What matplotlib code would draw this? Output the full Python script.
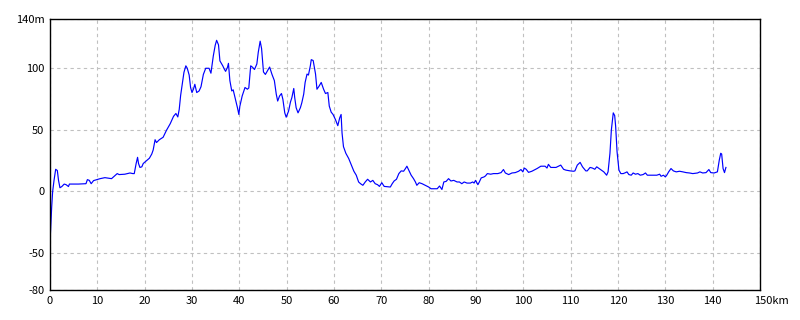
import matplotlib
matplotlib.use('Agg')
import matplotlib.pyplot as plt
import matplotlib.transforms as mtransforms

# distance (km) and elevation (m), rows kept aligned
km = [0, 0, 0.35, 0.56, 0.85, 1.2, 1.55, 1.8, 2.1, 2.5,
      3.0, 3.4, 3.9, 4.1, 6.0, 7.6, 7.9, 8.3, 8.7, 9.2,
      9.9, 10.6, 11.6, 13.0, 14.2, 14.6, 15.8, 16.9, 17.5, 17.8,
      18.2, 18.5, 18.7, 19.0, 19.4, 19.7, 20.4, 21.0, 21.5, 21.8,
      22.2, 22.5, 23.1, 23.9, 24.6, 25.4, 26.1, 26.6, 27.0, 27.3,
      27.6, 28.0, 28.3, 28.7, 29.0, 29.4, 29.7, 30.0, 30.3, 30.6,
      31.0, 31.5, 31.9, 32.4, 32.9, 33.6, 34.0, 34.5, 34.9, 35.2,
      35.6, 35.9, 36.5, 36.8, 37.1, 37.5, 37.7, 38.0, 38.4, 38.7,
      39.1, 39.6, 39.9, 40.1, 40.6, 41.2, 41.7, 42.0, 42.4, 42.8,
      43.2, 43.7, 44.0, 44.4, 44.7, 45.1, 45.5, 46.4, 46.9, 47.4,
      47.8, 48.1, 48.5, 48.9, 49.2, 49.6, 49.9, 50.4, 50.8, 51.1,
      51.5, 51.7, 52.0, 52.4, 52.9, 53.2, 53.6, 53.9, 54.3, 54.6,
      55.0, 55.2, 55.6, 56.1, 56.4, 56.8, 57.3, 57.8, 58.2, 58.7,
      59.0, 59.4, 59.8, 60.3, 60.8, 61.2, 61.5, 61.7, 62.0, 62.5,
      63.1, 63.6, 64.2, 64.7, 65.2, 65.6, 66.1, 66.6, 67.1, 67.7,
      68.2, 68.7, 69.2, 69.6, 70.1, 70.6, 71.9, 72.3, 72.7, 73.2,
      73.7, 74.2, 74.7, 75.1, 75.4, 75.8, 76.3, 76.8, 77.2, 77.5,
      78.0, 78.6, 79.3, 80.0, 80.5, 81.8, 82.3, 82.8, 83.2, 83.7,
      84.2, 84.7, 85.3, 86.0, 86.5, 87.0, 87.5, 88.1, 88.8, 89.3,
      89.6, 89.9, 90.4, 90.7, 91.1, 91.7, 92.0, 92.4, 93.1, 93.7,
      94.6, 95.3, 95.8, 96.2, 96.9, 97.6, 98.3, 99.0, 99.5, 99.9,
      100.2, 100.6, 101.1, 101.8, 102.9, 103.7, 104.6, 105.0, 105.3, 105.8,
      106.9, 107.4, 107.9, 108.5, 109.0, 109.9, 110.6, 110.9, 111.4, 112.0,
      112.5, 113.2, 113.5, 114.1, 114.6, 115.1, 115.5, 116.0, 116.5, 117.0,
      117.6, 117.9, 118.3, 118.6, 119.0, 119.3, 119.5, 119.8, 120.2, 120.6,
      121.1, 121.6, 121.9, 122.3, 122.8, 123.2, 123.7, 124.2, 124.7, 125.3,
      125.8, 126.2, 127.4, 128.2, 128.8, 129.1, 129.6, 130.0, 130.3, 130.7,
      131.2, 131.7, 132.3, 133.0, 133.7, 134.4, 135.1, 135.8, 136.8, 137.3,
      137.9, 138.6, 139.2, 139.6, 140.3, 141.0, 141.4, 141.7, 141.9, 142.2,
      142.5, 142.8]
elev = [-70, -42, -13, 0, 9, 18, 17, 9, 3, 4,
        6, 5.5, 4, 6, 6, 6.3, 9.6, 9, 6.3, 8.8,
        9.6, 10.4, 11.2, 10.4, 14.5, 13.7, 14, 15, 14.5, 14.5,
        22.7, 27.7, 22.7, 19.5, 20, 22.7, 25, 27, 30.4, 33.7,
        42, 39.7, 42, 44, 49.6, 55, 61, 63.3, 60.5, 66.6,
        78, 88.5, 96.7, 102, 100, 94.5, 84.4, 80.3, 83, 87,
        80.3, 81.6, 85, 95, 100, 100, 96, 110, 118.6, 122.7,
        119, 106, 102, 99.5, 97.5, 100.8, 104, 90, 81.6, 82.5,
        76, 68, 62.5, 69, 77.5, 84.4, 83, 84, 102, 100.8,
        99, 103.5, 113, 122, 116, 97, 95, 101, 95, 90,
        79, 73.4, 77.5, 79.5, 74.8, 63.8, 60.3, 65.2, 72.6, 76.2,
        83.6, 76.2, 68, 63.8, 68, 72, 79, 88.5, 95.3, 94.5,
        102, 107, 106.3, 95.3, 83, 85.2, 88.5, 83, 79.5, 80.3,
        69.3, 64.4, 62.5, 58.4, 53.4, 59.7, 62.5, 47.4, 36.4, 31,
        26.8, 22, 16.4, 13.2, 7.7, 6.3, 5, 7.7, 9.9, 7.7,
        9, 6.3, 5.5, 4.1, 7.1, 4.1, 3.6, 6.3, 8.5, 9.9,
        14.5, 16.7, 16.4, 18.6, 20.5, 17.3, 13.2, 10.4, 7.7, 5,
        7.1, 6.3, 5, 3.6, 2.2, 2.2, 4.4, 1.6, 7.7, 8.2,
        10.4, 8.5, 9, 7.7, 7.7, 6.3, 7.7, 6.8, 6.8, 7.7,
        6.8, 9, 5.5, 7.7, 11, 11.8, 12.6, 14.5, 14, 14.5,
        14.5, 15.3, 17.8, 15, 13.7, 15, 15.3, 16.4, 17.8, 15.9,
        19, 18, 15.5, 16.4, 18.6, 20.5, 20.5, 19, 22, 19.5,
        19.5, 20.5, 21.4, 18, 17.3, 16.7, 16.4, 16.7, 21.4, 23.6,
        20, 16.7, 16.7, 19.5, 19, 18, 20, 18.6, 17.3, 15.9,
        13.2, 15.9, 31, 50, 63.8, 61.6, 53, 32.3, 17.3, 14.5,
        14.5, 15.3, 15.9, 13.7, 13.2, 15, 14, 14.5, 13.2, 13.7,
        15, 13.2, 13.2, 13.2, 14, 12.3, 13.2, 11.8, 13.2, 15.9,
        18.6, 16.7, 15.9, 16.4, 15.9, 15.3, 15, 14.5, 15, 15.9,
        15, 15.3, 17.8, 15.3, 15, 15.9, 25.5, 31, 30.4, 18.6,
        15.3, 19.5]

x_ticks = [0, 10, 20, 30, 40, 50, 60, 70, 80, 90, 100, 110, 120, 130, 140, 150]
x_labels = ['0', '10', '20', '30', '40', '50', '60', '70', '80', '90',
            '100', '110', '120', '130', '140', '150km']
y_ticks = [-80, -50, 0, 50, 100, 140]
y_labels = ['-80', '-50', '0', '50', '100', '140m']

plt.rcParams['font.family'] = ['Noto Sans CJK JP', 'DejaVu Sans']

fig = plt.figure(figsize=(8, 3.2), dpi=100)
ax = fig.add_axes([50 / 800, 30 / 320, 710 / 800, 271 / 320])

ax.plot(km, elev, color='#0000ff', lw=0.85)

ax.set_xlim(0, 150)
ax.set_ylim(-80, 140)
ax.set_xticks(x_ticks)
ax.set_xticklabels(x_labels, fontsize=8)
ax.set_yticks(y_ticks)
ax.set_yticklabels(y_labels, fontsize=8)
ax.tick_params(length=0, pad=4)

# shift "150km" so the number sits under its tick
lbl = ax.get_xticklabels()[-1]
lbl.set_transform(lbl.get_transform() + mtransforms.ScaledTranslation(8 / 72, 0, fig.dpi_scale_trans))

ax.grid(True, color='#c0c0c0', linestyle=(0, (3, 3)), lw=0.8)
for s in ax.spines.values():
    s.set_color('black')
    s.set_linewidth(1.0)

plt.savefig("out.png", dpi=100)
